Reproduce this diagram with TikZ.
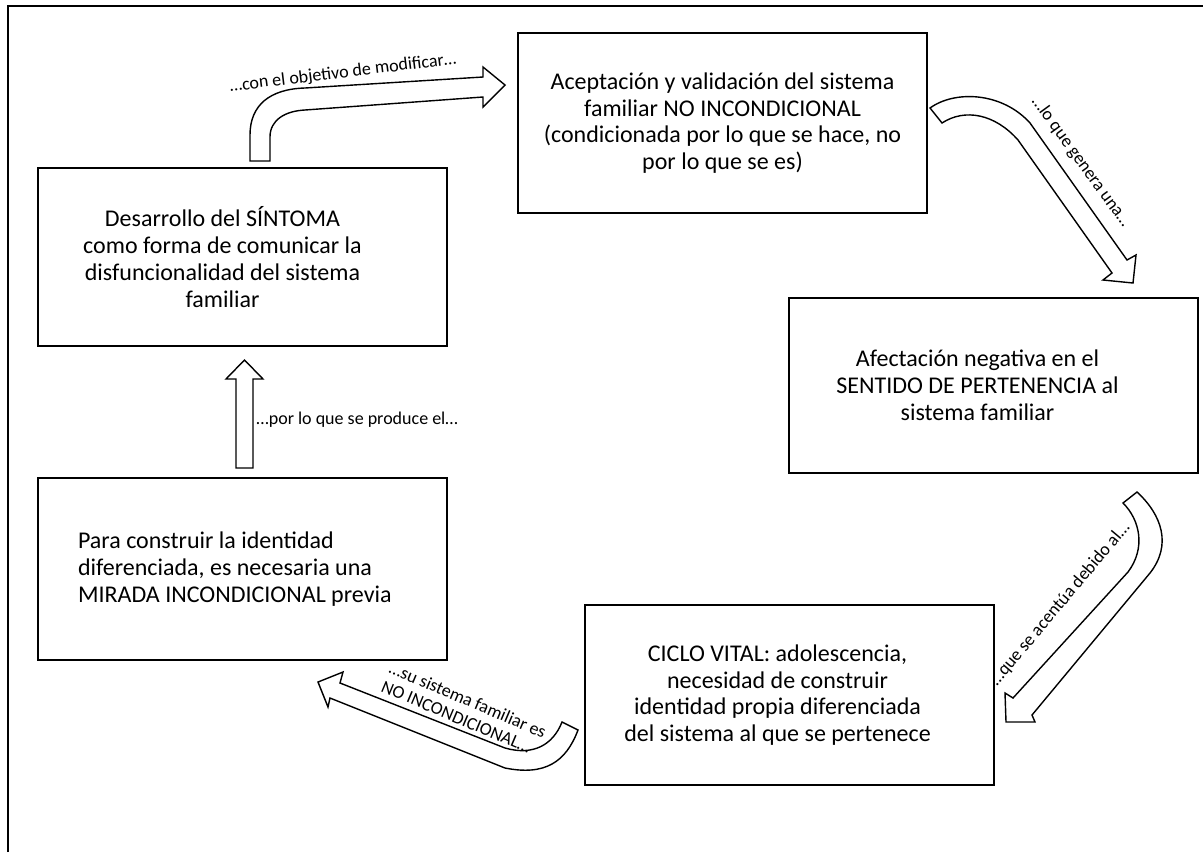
\documentclass[tikz,border=0pt]{standalone}
\usepackage{fontspec}
\setmainfont{Carlito}
\usetikzlibrary{positioning}

\begin{document}
\begin{tikzpicture}[x=0.5pt,y=-0.5pt]
  \tikzstyle{box}=[draw=black, line width=1pt, minimum width=204.5pt, inner sep=0pt]
  \tikzstyle{box_text}=[align=center, font=\fontsize{12}{13.4}\selectfont]
  \tikzstyle{block_arrow}=[draw=black, fill=white, line width=0.7pt, line join=miter]
  \tikzstyle{arrow_text}=[font=\fontsize{9}{10}\selectfont, inner sep=0pt]

  \useasboundingbox (0,0) rectangle (1203,852);
  \draw [line width=1.3pt] (8,852) -- (8,6) -- (1203,6);

  % cajas
  \node [box, minimum height=90pt] (aceptacion) at (722.5,123) {};
  \node [box, minimum height=89pt] (sintoma) at (242.5,257) {};
  \node [box, minimum height=87.5pt] (pertenencia) at (993.5,385.5) {};
  \node [box, minimum height=91pt] (identidad) at (242.5,569) {};
  \node [box, minimum height=90pt] (ciclo) at (789.5,695) {};

  \node [box_text] (aceptacion_txt) at (aceptacion.center)
    {Aceptación y validación del sistema\\familiar NO INCONDICIONAL\\(condicionada por lo que se hace, no\\por lo que se es)};
  \node [box_text] (sintoma_txt) at ([xshift=-10pt]sintoma.center)
    {Desarrollo del SÍNTOMA\\como forma de comunicar la\\disfuncionalidad del sistema\\familiar};
  \node [box_text] (pertenencia_txt) at ([xshift=-8pt]pertenencia.center)
    {Afectación negativa en el\\SENTIDO DE PERTENENCIA al\\sistema familiar};
  \node [box_text, align=left, anchor=west] (identidad_txt) at ([xshift=17pt]identidad.west)
    {Para construir la identidad\\diferenciada, es necesaria una\\MIRADA INCONDICIONAL previa};
  \node [box_text] (ciclo_txt) at ([xshift=-6pt]ciclo.center)
    {CICLO VITAL: adolescencia,\\necesidad de construir\\identidad propia diferenciada\\del sistema al que se pertenece};

  % flechas
  \draw [block_arrow] (236,468) -- (236,379) -- (226,379) -- (244.5,360) -- (263,379)
    -- (253,379) -- (253,468) -- cycle;
  \node [arrow_text, anchor=west] (producir) at (256,420) {…por lo que se produce el…};

  \draw [block_arrow] (250,161) -- (250,135) .. controls (250,105) and (270,89) .. (305,88)
    -- (483,77) -- (483,67) -- (505,85) -- (483,107) -- (483,97) -- (305,110)
    .. controls (285,111) and (270,120) .. (270,137) -- (270,161) -- cycle;
  \node [arrow_text, rotate=7] (modificar) at (343,73) {…con el objetivo de modificar…};

  \draw [block_arrow] (930,108) .. controls (955,90) and (1002,92) .. (1030,123)
    -- (1127,260) -- (1136,255) -- (1133,283) -- (1103,280) -- (1112,273) -- (1018,140)
    .. controls (995,114) and (965,108) .. (942,123) -- cycle;
  \node [arrow_text, rotate=-54] (genera) at (1081,162) {…lo que genera una…};

  \draw [block_arrow] (1137,492) .. controls (1162,515) and (1172,545) .. (1150,573)
    -- (1032,715) -- (1035,722) -- (1006,722) -- (1005,693) -- (1013,698) -- (1128,572)
    .. controls (1146,548) and (1140,520) .. (1123,503) -- cycle;
  \node [arrow_text, rotate=50] (acentua) at (1060,604) {…que se acentúa debido al…};

  \draw [block_arrow] (578,730) .. controls (566,762) and (545,776) .. (505,768)
    -- (330,698) -- (328,707) -- (318,682) -- (343,672) -- (340,683) -- (505,748)
    .. controls (533,756) and (553,745) .. (562,722) -- cycle;
  \node [arrow_text, rotate=-23, align=left] (no_incondicional) at (464,709)
    {…su sistema familiar es\\NO INCONDICIONAL…};
\end{tikzpicture}
\end{document}
